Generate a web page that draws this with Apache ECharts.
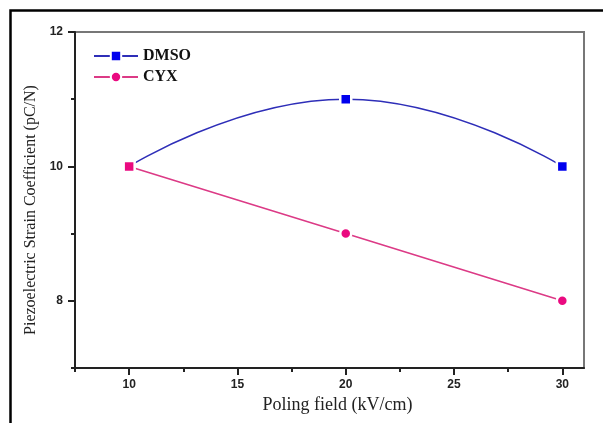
<!DOCTYPE html>
<html><head><meta charset="utf-8">
<script src="https://cdn.jsdelivr.net/npm/echarts@6/dist/echarts.min.js"></script>
<style>html,body{margin:0;padding:0;background:#fff}#c{width:603px;height:423px}</style>
</head><body><div id="c"></div>
<script>
const poling = [10, 20, 30];
const dmso = [10, 11, 10];
const cyx = [10, 9, 8];
const xMajor = [10, 15, 20, 25, 30];
const xMinor = [7.5, 12.5, 17.5, 22.5, 27.5];
const yMajor = [8, 10, 12];
const yMinor = [7, 9, 11];

const blue = '#0000ee', pink = '#ea0a80';
const chart = echarts.init(document.getElementById('c'), null, {renderer: 'canvas'});
const tickFont = {fontFamily: 'Liberation Sans, Arial', fontWeight: 'bold', fontSize: 12, color: '#222'};
const serif = 'Liberation Serif, Times New Roman, serif';
chart.setOption({
  animation: false,
  backgroundColor: '#fff',
  graphic: [{type: 'rect', shape: {x: 10.5, y: 10.5, width: 700, height: 600}, style: {fill: 'none', stroke: '#000', lineWidth: 2.5}}],
  grid: {left: 75, top: 32, right: 19, bottom: 55, show: true, borderColor: '#777', borderWidth: 2},
  legend: {
    orient: 'vertical', left: 93, top: 48, padding: 0, itemWidth: 44, itemHeight: 13, itemGap: 5,
    textStyle: {fontFamily: serif, fontWeight: 'bold', fontSize: 16, color: '#111'},
    data: [
      {name: 'DMSO', itemStyle: {color: blue}},
      {name: 'CYX', itemStyle: {color: pink}}
    ]
  },
  xAxis: [{
    type: 'value', min: 7.5, max: 31,
    name: 'Poling field (kV/cm)', nameLocation: 'middle', nameGap: 24,
    nameTextStyle: {fontFamily: serif, fontSize: 18, color: '#222', padding: [0, 0, 0, 16]},
    axisLine: {show: true, lineStyle: {color: '#222', width: 2}},
    axisTick: {show: true, inside: false, length: 7, customValues: xMajor, lineStyle: {color: '#222', width: 2}},
    axisLabel: {show: true, margin: 11, customValues: xMajor, ...tickFont},
    splitLine: {show: false}
  }, {
    type: 'value', min: 7.5, max: 31, position: 'bottom',
    axisLine: {show: false},
    axisTick: {show: true, length: 4, customValues: xMinor, lineStyle: {color: '#222', width: 2}},
    axisLabel: {show: false}, splitLine: {show: false}
  }],
  yAxis: [{
    type: 'value', min: 7, max: 12,
    name: 'Piezoelectric Strain Coefficient (pC/N)', nameLocation: 'middle', nameGap: 33,
    nameTextStyle: {fontFamily: serif, fontSize: 16, color: '#222', padding: [0, 20, 0, 0]},
    axisLine: {show: true, lineStyle: {color: '#222', width: 2}},
    axisTick: {show: true, length: 7, customValues: yMajor, lineStyle: {color: '#222', width: 2}},
    axisLabel: {show: true, margin: 12, customValues: yMajor, ...tickFont},
    splitLine: {show: false}
  }, {
    type: 'value', min: 7, max: 12, position: 'left',
    axisLine: {show: false},
    axisTick: {show: true, length: 4, customValues: yMinor, lineStyle: {color: '#222', width: 2}},
    axisLabel: {show: false}, splitLine: {show: false}
  }],
  series: [{
    name: 'CYX', type: 'line', z: 2,
    data: poling.map((x, i) => i === 0 ? {value: [x, cyx[i]], symbol: 'none'} : [x, cyx[i]]),
    symbol: 'circle', symbolSize: 11,
    lineStyle: {color: '#dc3a86', width: 1.6},
    itemStyle: {color: pink, borderColor: '#fff', borderWidth: 2.5}
  }, {
    name: 'DMSO', type: 'line', smooth: 0.5, z: 3,
    data: poling.map((x, i) => i === 0 ? {value: [x, dmso[i]], itemStyle: {color: pink}} : [x, dmso[i]]),
    symbol: 'rect', symbolSize: 11,
    lineStyle: {color: '#2e2eb8', width: 1.6},
    itemStyle: {color: blue, borderColor: '#fff', borderWidth: 2.5}
  }]
});
</script></body></html>
